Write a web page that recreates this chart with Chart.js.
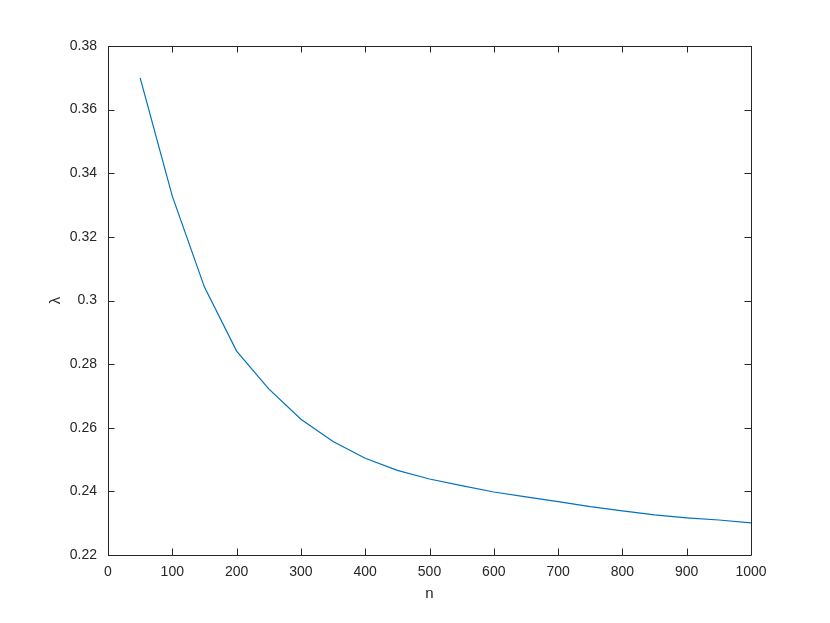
<!DOCTYPE html>
<html lang="en">
<head>
  <meta charset="UTF-8">
  <title>lambda vs n</title>
  <script src="https://cdn.jsdelivr.net/npm/chart.js"></script>
  <style>
    html, body { margin: 0; padding: 0; background: #fff; }
  </style>
</head>
<body>
<canvas id="chart" width="830" height="623"></canvas>

<script>
  // values
  const nValues = [50, 100, 150, 200, 250, 300, 350, 400, 450, 500,
                   550, 600, 650, 700, 750, 800, 850, 900, 950, 1000];
  const lambdaValues = [0.3700, 0.3328, 0.3042, 0.2841, 0.2722, 0.2627, 0.2557, 0.2504, 0.2466, 0.2439,
                        0.2418, 0.2398, 0.2383, 0.2368, 0.2352, 0.2339, 0.2326, 0.2317, 0.2310, 0.2301];
  const xTicks = [0, 100, 200, 300, 400, 500, 600, 700, 800, 900, 1000];
  const yTicks = [0.22, 0.24, 0.26, 0.28, 0.3, 0.32, 0.34, 0.36, 0.38];

  const axisColor = '#262626';
  const fontFamily = '"Liberation Sans", Arial, Helvetica, sans-serif';

  // MATLAB style box with inward ticks on all four sides
  const boxPlugin = {
    id: 'box',
    afterDraw(chart) {
      const ctx = chart.ctx;
      const { left, right, top, bottom } = chart.chartArea;
      const xs = chart.scales.x, ys = chart.scales.y;
      const tl = 6.5;
      ctx.save();
      ctx.strokeStyle = axisColor;
      ctx.lineWidth = 1;
      ctx.beginPath();
      ctx.rect(Math.round(left) + 0.5, Math.round(top) + 0.5,
               Math.round(right - left), Math.round(bottom - top));
      xTicks.forEach(v => {
        const px = Math.round(xs.getPixelForValue(v)) + 0.5;
        ctx.moveTo(px, bottom); ctx.lineTo(px, bottom - tl);
        ctx.moveTo(px, top); ctx.lineTo(px, top + tl);
      });
      yTicks.forEach(v => {
        const py = Math.round(ys.getPixelForValue(v)) + 0.5;
        ctx.moveTo(left, py); ctx.lineTo(left + tl, py);
        ctx.moveTo(right, py); ctx.lineTo(right - tl, py);
      });
      ctx.stroke();
      ctx.restore();
    }
  };

  const ctx = document.getElementById('chart').getContext('2d');

  new Chart(ctx, {
    type: 'scatter',
    data: {
      datasets: [{
        data: nValues.map((n, i) => ({ x: n, y: lambdaValues[i] })),
        showLine: true,
        borderColor: '#0072BD',
        borderWidth: 1.2,
        pointRadius: 0,
        tension: 0,
        fill: false
      }]
    },
    options: {
      responsive: false,
      animation: false,
      layout: { padding: { left: 0, right: 79, top: 46, bottom: 0 } },
      plugins: {
        legend: { display: false },
        tooltip: { enabled: false }
      },
      scales: {
        x: {
          type: 'linear',
          min: 0,
          max: 1000,
          grid: { display: false, drawTicks: false },
          border: { display: false },
          afterBuildTicks: s => { s.ticks = xTicks.map(v => ({ value: v })); },
          afterFit: s => { s.height = 68; },
          ticks: {
            color: axisColor,
            padding: 9,
            maxRotation: 0,
            font: { family: fontFamily, size: 14 },
            callback: v => String(v)
          },
          title: {
            display: true,
            text: 'n',
            color: axisColor,
            font: { family: fontFamily, size: 15 },
            padding: { top: 20, bottom: 20 }
          }
        },
        y: {
          type: 'linear',
          min: 0.22,
          max: 0.38,
          grid: { display: false, drawTicks: false },
          border: { display: false },
          afterBuildTicks: s => { s.ticks = yTicks.map(v => ({ value: v })); },
          afterFit: s => { s.width = 108; },
          ticks: {
            color: axisColor,
            padding: 11,
            font: { family: fontFamily, size: 14 },
            callback: v => String(+v.toFixed(2))
          },
          title: {
            display: true,
            text: 'λ',
            color: axisColor,
            font: { family: fontFamily, size: 15 },
            padding: { top: 47, bottom: 47 }
          }
        }
      }
    },
    plugins: [boxPlugin]
  });
</script>
</body>
</html>
